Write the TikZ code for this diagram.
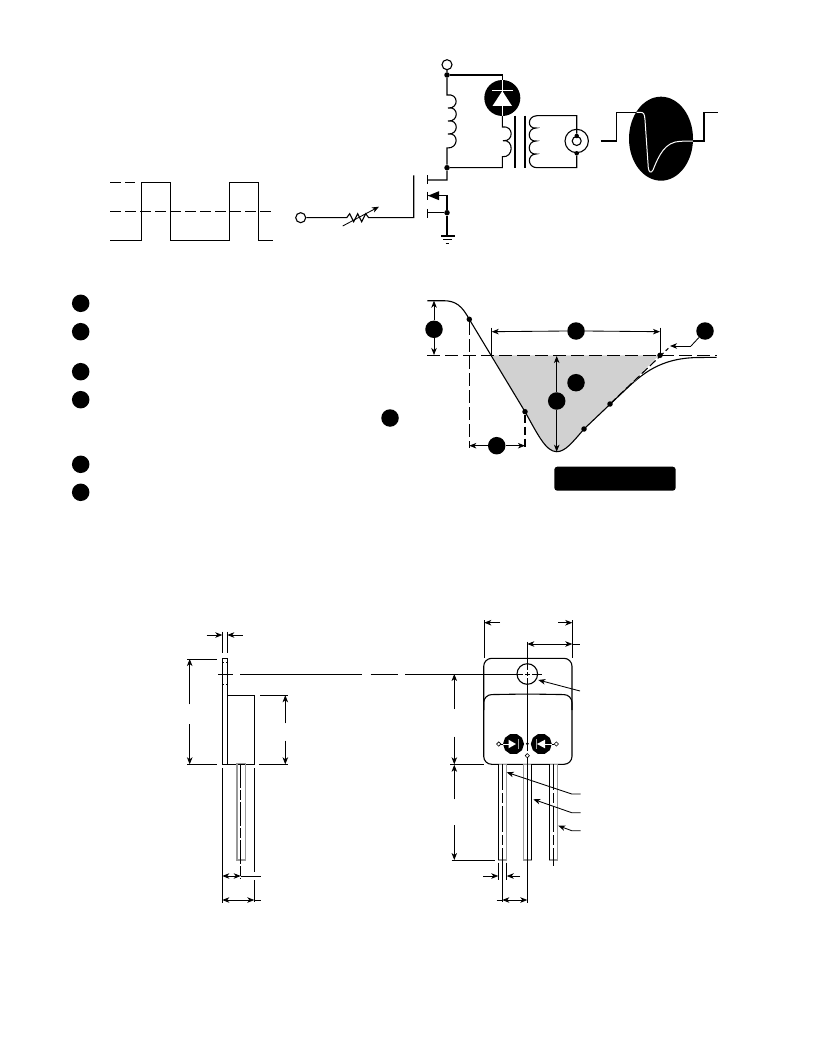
\documentclass[tikz,border=0pt]{standalone}
\usetikzlibrary{arrows.meta,shapes.geometric}
\tikzset{
 ln/.style={line width=1.1pt,black},
 thin ln/.style={line width=0.85pt,black},
 wht/.style={line width=1pt,white},
 dashl/.style={line width=1.1pt,black,dash pattern=on 11pt off 4pt},
 dot/.style={circle,fill=black,inner sep=0pt,minimum size=5.5pt},
 bullet/.style={circle,fill=black,inner sep=0pt,minimum size=17.5pt},
 term/.style={circle,draw=black,fill=white,line width=1.1pt,inner sep=0pt,minimum size=10pt},
 dia/.style={diamond,draw=black,fill=white,line width=0.6pt,inner sep=0pt,minimum size=4.5pt},
 dim/.style={line width=0.85pt,black,{Stealth[length=7pt,width=5.5pt,inset=2pt]}-{Stealth[length=7pt,width=5.5pt,inset=2pt]}},
 arr/.style={line width=0.85pt,black,-{Stealth[length=7pt,width=5.5pt,inset=2pt]}},
 pin/.style={draw=gray!80,line width=1.1pt},
}
\begin{document}
\begin{tikzpicture}[x=1pt,y=-1pt]
\useasboundingbox (0,0) rectangle (816,1056);
% left pulse waveform
\draw[ln] (110,240.3) -- (141.7,240.3) -- (141.7,182.7) -- (170.3,182.7) -- (170.3,240.3) -- (229.3,240.3) -- (229.3,182.7) -- (258.3,182.7) -- (258.3,240.3) -- (272.7,240.3);
\draw[dashl] (110,182.3) -- (135,182.3);
\draw[dashl] (110,211.3) -- (273,211.3);
% gate drive
\node[term] (in) at (300.7,217.7) {};
\coordinate (rl) at (346.7,217.7);
\coordinate (rr) at (370,217.7);
\coordinate (g) at (413.7,217.7);
\draw[ln] (in) -- (rl) -- ++(3,-4) -- ++(4,8) -- ++(4,-8) -- ++(4,8) -- ++(4,-8) -- ++(3,4) -- (rr) -- (g) -- (413.7,175.3);
\draw[arr] (342.7,226) -- (379,206.7);
% MOSFET
\draw[ln] (427.3,175.3) -- (427.3,184.3) (427.3,191.7) -- (427.3,200) (427.3,209) -- (427.3,217.7);
\node[term] (vdd) at (447,64.7) {};
\node[dot] (d1) at (447,75) {};
\node[dot] (d2) at (447,167.7) {};
\node[dot] (d3) at (447,212.7) {};
\draw[ln] (vdd) -- (d1) -- (447,95)
  .. controls (459,93) and (459,109) .. (448,108)
  .. controls (459,106) and (459,122) .. (448,121)
  .. controls (459,119) and (459,135) .. (448,134)
  .. controls (459,132) and (459,149) .. (447,148)
  -- (d2) -- (447,180) -- (427.3,180);
\draw[ln] (427.3,195.7) -- (447,195.7) -- (d3) -- (427.3,212.7);
\fill (428,195.7) -- (439,191.2) -- (439,200.2) -- cycle;
\draw[ln] (d3) -- (447,236);
\draw[ln] (441.3,236) -- (455,236) (443,239.7) -- (452,239.7);
\draw[line width=0.9pt] (445.5,243) -- (449,243);
% diode
\draw[ln] (d1) -- (502.3,75) -- (502.3,85);
\node[circle,fill=black,minimum size=36pt,inner sep=0pt] (dio) at (502.3,98) {};
\fill[white] (502.3,91) -- (512,106) -- (492.5,106) -- cycle;
\draw[wht] (492,90.5) -- (512.5,90.5) (502.3,80) -- (502.3,116);
% transformer primary
\draw[ln] (502.3,116) -- (502.3,127)
  .. controls (514,125) and (514,142) .. (503,140.7)
  .. controls (514,139) and (514,158) .. (502.3,156.7)
  -- (502.3,167.7) -- (d2);
\draw[ln] (515,115.7) -- (515,167.7) (525,115.7) -- (525,167.7);
% secondary
\node[circle,draw=black,line width=1.1pt,minimum size=23.4pt,inner sep=0pt] (crt) at (576.7,141) {};
\node[circle,draw=black,line width=1.1pt,minimum size=9pt,inner sep=0pt] (crti) at (576.7,141) {};
\node[dot,minimum size=4.5pt] (c1) at (576.7,136) {};
\node[dot,minimum size=4.5pt] (c2) at (576.7,153.3) {};
\draw[ln] (c1) -- (576.7,115.7) -- (537,115.7)
  .. controls (527,116) and (527,129) .. (536,128)
  .. controls (527,128) and (527,142) .. (536,141)
  .. controls (527,141) and (527,155) .. (536,154)
  .. controls (527,154) and (527,167.7) .. (537,167.7)
  -- (576.7,167.7) -- (c2);
% scope
\node[ellipse,fill=black,minimum width=64pt,minimum height=84pt,inner sep=0pt] (sc) at (661,138.7) {};
\draw[ln] (600.7,141) -- (616.7,141) -- (616.7,112.3) -- (636.7,112.3);
\draw[wht] (636.7,112.3) -- (640,112.3) .. controls (644,112.3) and (644.5,114) .. (645,120) -- (648.3,168) .. controls (649,172.5) and (651,173.5) .. (653,170) .. controls (659,155) and (665,142) .. (680,141.3) -- (693.3,141);
\draw[ln] (693.3,141) -- (704,141) -- (704,112.3) -- (717.7,112.3);
% bullets
\foreach \n/\y in {a/303.3,b/331.7,c/371.7,d/399.7,e/464.3,f/492.3}
  \node[bullet] (\n) at (80.7,\y) {};
\node[bullet] (g1) at (390,418) {};
% pulse definition
\fill[black!18] (491.7,355.3) -- (660,355.3) -- (610,404) -- (584,429) .. controls (572,443) and (565,451.7) .. (556.7,451.7) .. controls (546,451.7) and (538,435) .. (525,411.7) -- cycle;
\draw[dashl,dash pattern=on 13pt off 5pt] (427.3,355.3) -- (716.7,355.3);
\draw[ln] (427.3,300.7) -- (443.3,300.7) .. controls (456,300.7) and (462,306) .. (469.3,319.3) -- (525,411.7) .. controls (538,435) and (546,451.7) .. (556.7,451.7) .. controls (565,451.7) and (572,443) .. (584,429) -- (623.3,391.7) .. controls (642,374) and (660,357.5) .. (700,357.5) -- (716.7,357.3);
\draw[line width=1.1pt,white] (634,381) -- (660,355.3);
\draw[dashl,dash pattern=on 8pt off 3pt] (610,404) -- (668.3,348.3);
\node[dot] (p1) at (469.3,319.3) {};
\node[dot] (p2) at (525,411.7) {};
\node[dot] (p3) at (584,429) {};
\node[dot] (p4) at (610,404) {};
\node[dot] (p5) at (660,355.3) {};
\draw[dashl,dash pattern=on 13pt off 4pt] (p1) -- (469.3,448.3);
\draw[dashl,dash pattern=on 8pt off 4pt] (p2) -- (525,448.3);
\node[bullet] (t1) at (434,329.3) {};
\node[bullet] (t2) at (576,331) {};
\node[bullet] (t3) at (705,331) {};
\node[bullet] (t4) at (576,382.7) {};
\node[bullet] (t5) at (556.7,401) {};
\node[bullet] (t6) at (496.7,445.7) {};
\draw[arr] (t1) -- (434,300.7);
\draw[arr] (t1) -- (434,355);
\draw[arr] (t2.west) -- (491.7,331.7);
\draw[arr] (t2.east) -- (660,331.7);
\draw[thin ln] (491.7,327.7) -- (491.7,355) (660,327.7) -- (660,353);
\draw[thin ln] (t3) -- (691,346);
\draw[arr] (691,346) -- (670,346);
\draw[arr] (t5) -- (556.7,356);
\draw[arr] (t5) -- (556.7,451.7);
\draw[arr] (t6) -- (469.3,445.7);
\draw[arr] (t6) -- (525,445.7);
\node[fill=black,rounded corners=3pt,minimum width=121.4pt,minimum height=24pt,inner sep=0pt] (box) at (615,478.7) {};
% side view
\draw[ln] (222.3,658.3) rectangle (227.3,764.3);
\draw[ln] (227.3,695.3) rectangle (254.3,764.3);
\draw[pin] (237,763.3) rectangle (245.3,860);
\draw[thin ln,dash pattern=on 24pt off 2pt on 10pt off 2pt] (240.7,764) -- (240.7,879.3);
\draw[thin ln,dash pattern=on 2pt off 2pt] (222.3,662.7) -- (227.3,662.7) (222.3,684) -- (227.3,684);
\draw[thin ln] (222.3,631.7) -- (222.3,653.3) (227.3,631.7) -- (227.3,653.3);
\draw[arr] (206.7,635) -- (222.3,635);
\draw[arr] (242.7,635) -- (227.3,635);
\draw[thin ln] (187.3,659) -- (216.7,659) (187.3,764.3) -- (216.7,764.3);
\draw[arr] (189.7,704.3) -- (189.7,659);
\draw[arr] (189.7,724.3) -- (189.7,764.3);
\draw[thin ln] (260,695.3) -- (288.3,695.3) (259.3,764.3) -- (288.3,764.3);
\draw[arr] (285.3,723.3) -- (285.3,695.3);
\draw[arr] (285.3,740.7) -- (285.3,764.3);
\draw[thin ln] (222.3,768.3) -- (222.3,902.7) (254.3,768.3) -- (254.3,871.7) (254.3,880) -- (254.3,901.7);
\draw[dim] (222.3,876) -- (240.7,876);
\draw[thin ln] (240.7,876) -- (260.7,876);
\draw[dim] (222.3,900) -- (254.3,900);
\draw[thin ln] (254.3,900) -- (260.7,900);
% centre line
\draw[thin ln] (218.3,674) -- (233.3,674) (240,674) -- (361.7,674) (370.7,674) -- (398.3,674) (405,674) -- (515,674);
% front view
\draw[line width=1.1pt,rounded corners=8pt] (483.7,658.3) rectangle (572,764.3);
\draw[line width=1.1pt,rounded corners=8pt] (483.7,710) -- (483.7,694.7) -- (527.3,694) -- (572,694.7) -- (572,710);
\node[circle,draw=black,line width=1.1pt,minimum size=20.6pt,inner sep=0pt] (hole) at (527.3,674) {};
\draw[thin ln] (515,674) -- (542.3,674);
\draw[thin ln] (484.3,620) -- (484.3,658.3) (572.3,620) -- (572.3,658.3);
\draw[arr] (500,622.7) -- (484.3,622.7);
\draw[arr] (558.3,622.7) -- (572.3,622.7);
\draw[dim] (527.3,644) -- (572.3,644);
\draw[thin ln] (572.3,644) -- (580,644);
\draw[thin ln] (527.3,641.7) -- (527.3,751);
\draw[white,line width=1.5pt] (523,674) -- (525,674) (529.6,674) -- (531.6,674) (527.3,669.7) -- (527.3,671.7) (527.3,676.3) -- (527.3,678.3);
\draw[arr] (580,691) -- (538.3,680);
% emitters
\node[regular polygon,regular polygon sides=10,fill=black,minimum size=21pt,inner sep=0pt] (e1) at (513.5,744) {};
\node[regular polygon,regular polygon sides=10,fill=black,minimum size=21pt,inner sep=0pt] (e2) at (541.3,744) {};
\node[dia] (q1) at (498.7,744) {};
\node[dia] (q2) at (556.3,744) {};
\node[dia] (q3) at (527.3,755.7) {};
\node[dot,minimum size=3pt] (q0) at (527.3,743.7) {};
\draw[wht] (503,744) -- (510,744) (552,744) -- (544,744);
\fill[white] (516,744) -- (508.5,739.7) -- (508.5,748.3) -- cycle;
\fill[white] (537,744) -- (545,739.7) -- (545,748.3) -- cycle;
\draw[line width=1pt,gray!70] (518.3,739) -- (518.3,749) (536.7,739) -- (536.7,749);
\draw[thin ln] (q1) -- (503,744) (q2) -- (552,744);
% pins
\draw[pin] (498.3,764.3) rectangle (506.7,860);
\draw[pin] (523.3,764.3) rectangle (531.7,860);
\draw[pin] (549.3,764.3) rectangle (557.7,860);
\draw[ln] (498.3,764.3) -- (498.3,860) (531.7,764.3) -- (531.7,860) (549.3,764.3) -- (549.3,860);
\draw[thin ln,dash pattern=on 26pt off 3pt on 10pt off 3pt] (502.3,764.3) -- (502.3,860);
\draw[thin ln] (502.3,860) -- (502.3,901.7);
\draw[thin ln,dash pattern=on 26pt off 3pt on 10pt off 3pt] (553.3,764.3) -- (553.3,865.7);
\draw[thin ln] (527.3,757.7) -- (527.3,902.7);
\draw[thin ln] (498.3,862.7) -- (498.3,880) (506.7,862.7) -- (506.7,880);
\draw[arr] (483.3,876) -- (498.3,876);
\draw[arr] (520,876) -- (506.7,876);
\draw[thin ln] (496.7,900) -- (502.3,900);
\draw[dim] (502.3,900) -- (527.3,900);
% left dims
\draw[thin ln] (450,764.3) -- (484.3,764.3) (451.7,860) -- (495,860);
\draw[arr] (454.3,709) -- (454.3,674);
\draw[arr] (454.3,736.7) -- (454.3,764.3);
\draw[arr] (454.3,799.3) -- (454.3,764.8);
\draw[arr] (454.3,825) -- (454.3,860);
% leaders
\draw[arr] (580.7,794) -- (571.7,794) -- (506.7,772.3);
\draw[arr] (580.7,812.7) -- (571.7,812.7) -- (533.3,799.3);
\draw[arr] (580.7,830.7) -- (571.7,830.7) -- (558.3,825.7);
\end{tikzpicture}
\end{document}
